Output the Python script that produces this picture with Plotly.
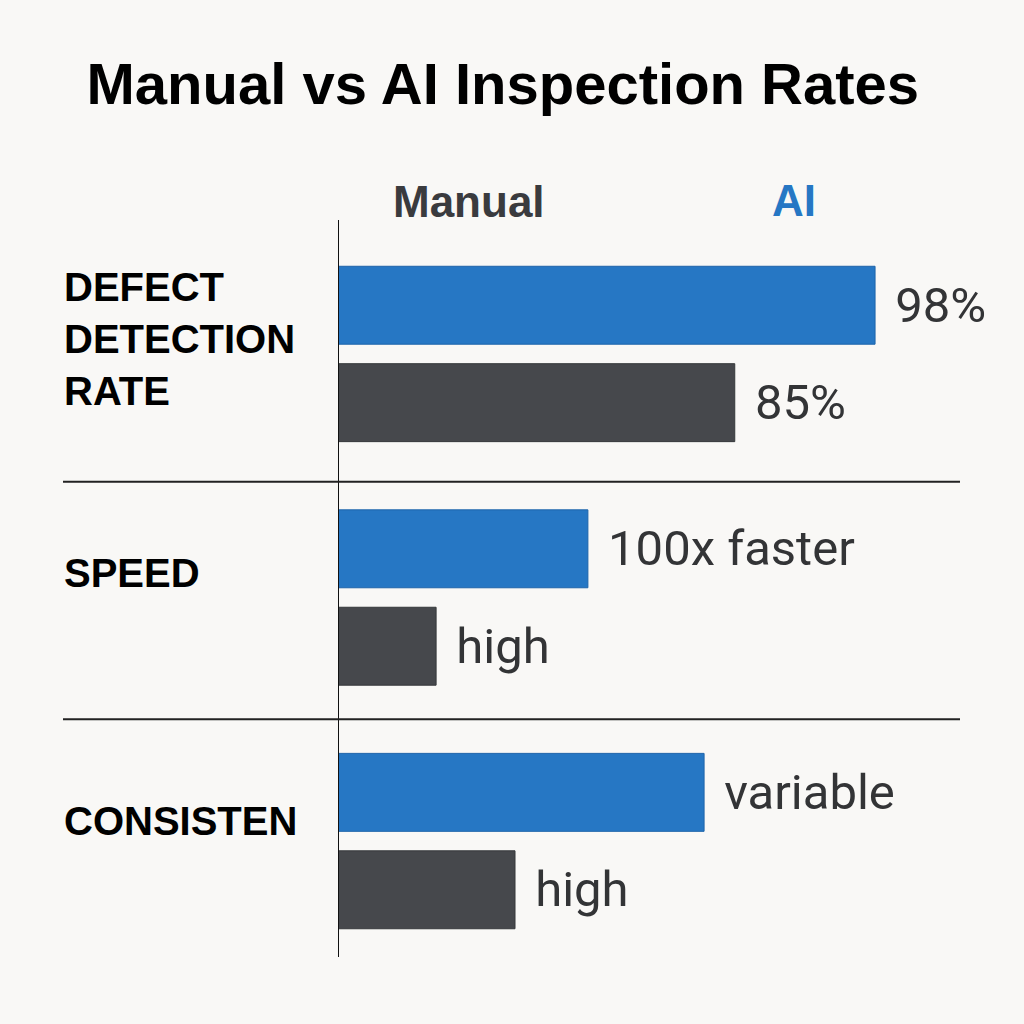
import plotly.graph_objects as go

# ---- data ----
categories = ["DEFECT<br>DETECTION<br>RATE", "SPEED", "CONSISTEN"]
ai_values = [98, 45.6, 66.8]          # bar lengths (AI, blue)
manual_values = [72.4, 17.9, 32.3]    # bar lengths (Manual, gray)
ai_labels = ["98%", "100x faster", "variable"]
manual_labels = ["85%", "high", "high"]
series_names = ["AI", "Manual"]

BLUE = "#2677C4"
GRAY = "#46484C"
BG = "#F9F8F6"
TXT = "#333436"
PAD = "\u00a0\u200a"

cat_idx = list(range(len(categories)))

fig = go.Figure()
fig.add_trace(go.Bar(
    y=cat_idx, x=ai_values, orientation="h", name=series_names[0],
    marker=dict(color=BLUE, line=dict(color="#1E64AA", width=1)),
    text=[PAD + t for t in ai_labels], textposition="outside",
    textfont=dict(family="Roboto", size=49, color=TXT),
    cliponaxis=False, constraintext="none",
))
fig.add_trace(go.Bar(
    y=cat_idx, x=manual_values, orientation="h", name=series_names[1],
    marker=dict(color=GRAY, line=dict(color="#36383B", width=1)),
    text=[PAD + t for t in manual_labels], textposition="outside",
    textfont=dict(family="Roboto", size=49, color=TXT),
    cliponaxis=False, constraintext="none",
))

L, R, T, B = 338, 64, 220, 67
W = 1024 - L - R

fig.update_layout(
    width=1024, height=1024,
    paper_bgcolor=BG, plot_bgcolor=BG,
    margin=dict(l=L, r=R, t=T, b=B),
    barmode="group", bargap=0.2, bargroupgap=0.2,
    showlegend=False,
    title=dict(text="<b>Manual vs AI Inspection Rates</b>",
               x=0.491, xanchor="center", y=0.918, yanchor="middle",
               font=dict(family="Liberation Sans, Arial", size=58, color="#000000")),
    xaxis=dict(range=[0, 113.5], visible=False, fixedrange=True),
    yaxis=dict(range=[2.476, -0.55], showticklabels=False, showgrid=False,
               zeroline=False, showline=False, fixedrange=True),
)

# vertical axis line and group separators
fig.add_shape(type="line", xref="x", yref="paper", x0=0, x1=0, y0=0, y1=1,
              line=dict(color="#111111", width=2))
for yb in [0.525, 1.5]:
    fig.add_shape(type="line", xref="paper", yref="y",
                  x0=(63 - L) / W, x1=1, y0=yb, y1=yb,
                  line=dict(color="#222222", width=2))

# category labels (left aligned)
shifts = [15, 25, 20]
for i, c in enumerate(categories):
    fig.add_annotation(xref="paper", yref="y", x=(62 - L) / W, y=i,
                       xanchor="left", yanchor="middle", align="left",
                       text="<b>" + c + "</b>", showarrow=False, yshift=shifts[i],
                       font=dict(family="Liberation Sans, Arial", size=40, color="#000000"))

# header legend
fig.add_annotation(xref="paper", yref="paper", x=(469 - L) / W, y=1.0, yanchor="bottom",
                   xanchor="center", showarrow=False, yshift=-8,
                   text="<b>" + series_names[1] + "</b>",
                   font=dict(family="Liberation Sans, Arial", size=44, color="#3A3B3E"))
fig.add_annotation(xref="paper", yref="paper", x=(794 - L) / W, y=1.0, yanchor="bottom",
                   xanchor="center", showarrow=False, yshift=-7,
                   text="<b>" + series_names[0] + "</b>",
                   font=dict(family="Liberation Sans, Arial", size=44, color=BLUE))

fig.write_html(
    "out.html",
    config={"displayModeBar": False},
    post_script="document.body.style.margin='0';document.body.style.background='%s';" % BG,
)
